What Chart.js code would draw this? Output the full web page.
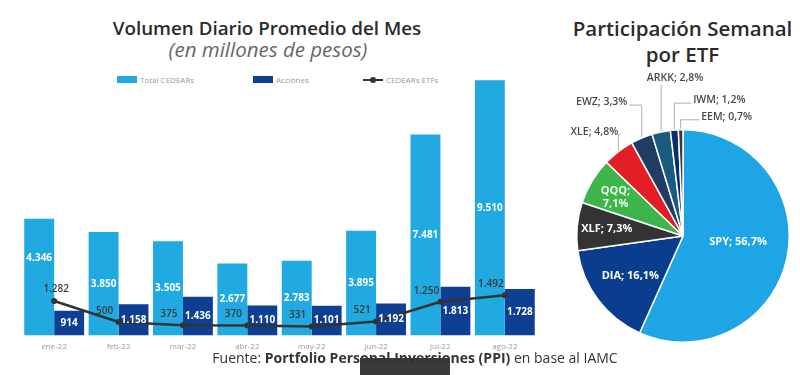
<!DOCTYPE html>
<html>
<head>
<meta charset="utf-8">
<script src="https://cdn.jsdelivr.net/npm/chart.js@4/dist/chart.umd.min.js"></script>
<style>
  html, body { margin:0; padding:0; background:#fff; }
  body { width:800px; height:375px; position:relative; overflow:hidden; font-family:"Open Sans", "Lato", sans-serif; }
  .abs { position:absolute; }
  #t1 { left:0; width:534px; top:15px; text-align:center; font-size:18.8px; font-weight:600; color:#2b2b2b; }
  #t2 { left:0; width:536px; top:35px; text-align:center; font-size:20.5px; font-style:italic; color:#666; }
  #t3 { left:560px; width:245px; top:15px; text-align:center; font-size:20.5px; font-weight:600; color:#2b2b2b; line-height:26px; }
  #legend { top:74px; left:0; font-size:8px; color:#9a9a9a; }
  .li { position:absolute; top:0; white-space:nowrap; display:flex; align-items:center; }
  .box { width:20px; height:7px; margin-right:3px; }
  .ln { width:20px; height:2px; background:#333; margin-right:3px; position:relative; }
  .ln::after { content:""; position:absolute; left:7px; top:-2px; width:6px; height:6px; border-radius:3px; background:#333; }
  #foot { left:0; width:830px; top:348px; text-align:center; font-size:14px; color:#333; z-index:2; }
  #artifact { left:360px; top:358px; width:90px; height:17px; background:#3a3a3a; z-index:1; }
  #bar { left:0; top:60px; }
  #pie { left:540px; top:60px; }
</style>
</head>
<body>
<div id="t1" class="abs">Volumen Diario Promedio del Mes</div>
<div id="t2" class="abs">(en millones de pesos)</div>
<div id="t3" class="abs">Participación Semanal<br>por ETF</div>
<div id="legend" class="abs">
  <div class="li" style="left:117px"><span class="box" style="background:#21A9E1"></span><span id="lg0"></span></div>
  <div class="li" style="left:253px"><span class="box" style="background:#0E3F93"></span><span id="lg1"></span></div>
  <div class="li" style="left:363px"><span class="ln"></span><span id="lg2"></span></div>
</div>
<canvas id="bar" class="abs" width="545" height="301"></canvas>
<canvas id="pie" class="abs" width="260" height="300"></canvas>
<div id="artifact" class="abs"></div>
<div id="foot" class="abs">Fuente: <b>Portfolio Personal Inversiones (PPI)</b> en base al IAMC</div>
<script>
// ---- data ----
const months = ["ene-22","feb-22","mar-22","abr-22","may-22","jun-22","jul-22","ago-22"];
const seriesNames = ["Total CEDEARs","Acciones","CEDEARs ETFs"];
const totalCedears = [4346, 3850, 3505, 2677, 2783, 3895, 7481, 9510];
const acciones = [914, 1158, 1436, 1110, 1101, 1192, 1813, 1728];
const cedearsEtfs = [1282, 500, 375, 370, 331, 521, 1250, 1492];

const etfLabels = ["SPY","DIA","XLF","QQQ","XLE","EWZ","ARKK","IWM","EEM"];
const etfShares = [56.7, 16.1, 7.3, 7.1, 4.8, 3.3, 2.8, 1.2, 0.7];

// ---- styles ----
const cLight = "#21A9E1", cDark = "#0E3F93", cLine = "#333333";
const pieColors = ["#1DA5E6","#0B3D8E","#333333","#3DB54A","#E41E26","#1F3D63","#1A5B80","#0A2D6B","#3a3a3a"];

document.getElementById("lg0").textContent = seriesNames[0];
document.getElementById("lg1").textContent = seriesNames[1];
document.getElementById("lg2").textContent = seriesNames[2];

const fmt = v => v.toLocaleString("de-DE");
const FONT = "'Open Sans', Lato, sans-serif";

const barLabels = {
  id: "barLabels",
  afterDatasetsDraw(chart) {
    const ctx = chart.ctx;
    ctx.save();
    ctx.textAlign = "center";
    ctx.textBaseline = "middle";
    chart.data.datasets.forEach((ds, di) => {
      const meta = chart.getDatasetMeta(di);
      meta.data.forEach((el, i) => {
        const v = ds.data[i];
        if (ds.type === "line") {
          ctx.font = "600 10px " + FONT;
          ctx.fillStyle = "#3a3a3a";
          if (i === 0) ctx.fillText(fmt(v), el.x + 2, el.y - 12);
          else ctx.fillText(fmt(v), el.x - 14, el.y - 11);
        } else {
          ctx.font = "700 10px " + FONT;
          ctx.fillStyle = "#ffffff";
          let y = (el.y + el.base) / 2;
          if (di === 1 && i === 0) y -= 19;
          ctx.fillText(fmt(v), el.x, y);
        }
      });
    });
    ctx.restore();
  }
};

new Chart(document.getElementById("bar"), {
  data: {
    labels: months,
    datasets: [
      { type: "line", label: seriesNames[2], data: cedearsEtfs, borderColor: cLine, backgroundColor: cLine,
        borderWidth: 2.5, pointRadius: 3, pointBackgroundColor: cLine, pointBorderWidth: 0, tension: 0, order: 0 },
      { type: "bar", label: seriesNames[0], data: totalCedears, backgroundColor: cLight, order: 1,
        categoryPercentage: 0.93, barPercentage: 1 },
      { type: "bar", label: seriesNames[1], data: acciones, backgroundColor: cDark, order: 1,
        categoryPercentage: 0.93, barPercentage: 1 }
    ]
  },
  options: {
    responsive: false, animation: false,
    layout: { padding: { top: 7, left: 22, right: 8, bottom: 2 } },
    plugins: { legend: { display: false }, tooltip: { enabled: false } },
    scales: {
      x: { grid: { display: false, drawTicks: false }, border: { display: false },
           ticks: { color: "#9a9a9a", font: { size: 8, family: FONT }, padding: 7 } },
      y: { display: false, min: 0, max: 10000 }
    }
  },
  plugins: [barLabels]
});

// outside-label offsets (px) relative to slice edge, for small slices
const outsideOffsets = { 4: [-24, -20], 5: [-40, -36], 6: [14, -54], 7: [45, -30], 8: [46, -13] };

const pieLabels = {
  id: "pieLabels",
  afterDatasetsDraw(chart) {
    const ctx = chart.ctx;
    const meta = chart.getDatasetMeta(0);
    ctx.save();
    ctx.textBaseline = "middle";
    meta.data.forEach((arc, i) => {
      const mid = (arc.startAngle + arc.endAngle) / 2;
      const r = arc.outerRadius;
      const txt = etfLabels[i] + "; " + etfShares[i].toFixed(1).replace(".", ",") + "%";
      if (outsideOffsets[i]) {
        const ax = arc.x + Math.cos(mid) * r, ay = arc.y + Math.sin(mid) * r;
        const [ox, oy] = outsideOffsets[i];
        const lx = ax + ox, ly = ay + oy;
        ctx.font = "600 10.5px " + FONT;
        const w = ctx.measureText(txt).width;
        ctx.fillStyle = "#4a4a4a";
        ctx.textAlign = "center";
        ctx.fillText(txt, lx, ly);
        ctx.strokeStyle = "#b0b0b0";
        ctx.lineWidth = 1;
        ctx.beginPath();
        ctx.moveTo(ax, ay - 1);
        if (Math.abs(ox) < w / 2) {
          ctx.lineTo(ax, ly + 7);
        } else {
          const ey = ly + 3;
          ctx.lineTo(ax, ey);
          ctx.lineTo(ox > 0 ? lx - w / 2 - 2 : lx + w / 2 + 2, ey);
        }
        ctx.stroke();
      } else {
        const f = i === 0 ? 0.53 : (i === 1 ? 0.62 : 0.72);
        const x = arc.x + Math.cos(mid) * r * f, y = arc.y + Math.sin(mid) * r * f;
        ctx.font = "700 11px " + FONT;
        ctx.fillStyle = i === 3 ? "#eaffea" : "#ffffff";
        ctx.textAlign = "center";
        if (i === 3) {
          ctx.fillText(etfLabels[i] + ";", x - 2, y - 6);
          ctx.fillText(etfShares[i].toFixed(1).replace(".", ",") + "%", x - 2, y + 7);
        } else {
          ctx.fillText(txt, x, i === 0 ? y - 6 : y);
        }
      }
    });
    ctx.restore();
  }
};

new Chart(document.getElementById("pie"), {
  type: "pie",
  data: { labels: etfLabels, datasets: [{ data: etfShares, backgroundColor: pieColors, borderColor: "#ffffff", borderWidth: 1.5 }] },
  options: {
    responsive: false, animation: false,
    layout: { padding: { left: 36, right: 10, top: 69, bottom: 17 } },
    plugins: { legend: { display: false }, tooltip: { enabled: false } }
  },
  plugins: [pieLabels]
});
</script>
</body>
</html>
